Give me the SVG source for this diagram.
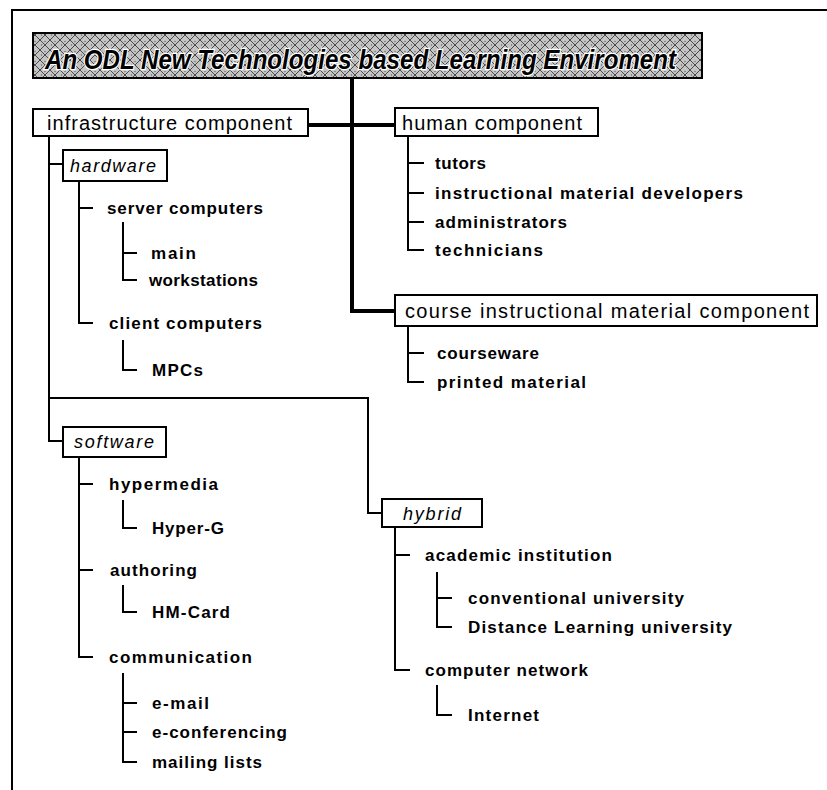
<svg xmlns="http://www.w3.org/2000/svg" width="827" height="790" viewBox="0 0 827 790">
  <defs>
    <pattern id="hatch" width="10" height="10" patternUnits="userSpaceOnUse">
      <rect width="10" height="10" fill="#c4c4c4"/>
      <path d="M0,0 L10,10 M10,0 L0,10" stroke="#4a4a4a" stroke-width="1"/>
      <circle cx="5" cy="1.5" r="0.7" fill="#666"/>
      <circle cx="1.5" cy="5" r="0.7" fill="#666"/>
    </pattern>
  </defs>
  <style>
    .box { fill: #ffffff; stroke: #000; stroke-width: 2; }
    .lbl { font-family: "Liberation Sans", Arial, sans-serif; font-size: 20px; fill: #000; }
    .cat { font-family: "Liberation Sans", Arial, sans-serif; font-size: 18px; font-style: italic; fill: #000; }
    .item { font-family: "Liberation Sans", Arial, sans-serif; font-size: 17px; font-weight: bold; fill: #000; }
    .thin { fill: none; stroke: #000; stroke-width: 2; }
    .thick { fill: none; stroke: #000; stroke-width: 4; }
  </style>

  <rect width="827" height="790" fill="#ffffff"/>

  <!-- page frame -->
  <path d="M12,790 V10 H827" fill="none" stroke="#000" stroke-width="2"/>

  <!-- connectors -->
  <g id="connectors">
    <path class="thick" d="M352,78 V311 H395"/>
    <path class="thick" d="M308,125 H395" stroke-width="5"/>
    <!-- infrastructure branches -->
    <path class="thin" d="M49,136 V441 H63 M49,164 H63 M49,398 H368 V513 H382"/>
    <!-- hardware -->
    <path class="thin" d="M79,181 V323 H93 M79,208 H93"/>
    <path class="thin" d="M123,222 V280 H137 M123,253 H137"/>
    <path class="thin" d="M123,340 V370 H137"/>
    <!-- software -->
    <path class="thin" d="M79,457 V657 H93 M79,484 H93 M79,570 H93"/>
    <path class="thin" d="M123,500 V528 H137"/>
    <path class="thin" d="M123,585 V612 H137"/>
    <path class="thin" d="M123,673 V762 H137 M123,703 H137 M123,732 H137"/>
    <!-- human -->
    <path class="thin" d="M408,136 V250 H424 M408,163 H424 M408,193 H424 M408,222 H424"/>
    <!-- course material -->
    <path class="thin" d="M408,327 V382 H424 M408,353 H424"/>
    <!-- hybrid -->
    <path class="thin" d="M395,527 V670 H410 M395,555 H410"/>
    <path class="thin" d="M437,572 V627 H452 M437,598 H452"/>
    <path class="thin" d="M437,685 V715 H452"/>
  </g>

  <g id="title">
    <rect x="33" y="33" width="669" height="45" fill="url(#hatch)" stroke="#000" stroke-width="2"/>
    <text x="45" y="69" font-family="'Liberation Sans', Arial, sans-serif" font-size="27" font-weight="bold" font-style="italic" textLength="631" lengthAdjust="spacingAndGlyphs" stroke="#fff" stroke-width="2.5" paint-order="stroke" fill="#000">An ODL New Technologies based Learning Enviroment</text>
  </g>

  <g id="infrastructure">
    <rect class="box" x="33" y="109" width="275" height="27"/>
    <text class="lbl" x="47" y="130" textLength="245">infrastructure component</text>
  </g>

  <g id="human">
    <rect class="box" x="395" y="108" width="203" height="28"/>
    <text class="lbl" x="402" y="130" textLength="180">human component</text>
  </g>
  <g id="human-items">
    <text class="item" x="435" y="169" textLength="51">tutors</text>
    <text class="item" x="435" y="199" textLength="308">instructional material developers</text>
    <text class="item" x="435" y="228" textLength="132">administrators</text>
    <text class="item" x="435" y="256" textLength="108">technicians</text>
  </g>

  <g id="course">
    <rect class="box" x="395" y="295" width="422" height="31"/>
    <text class="lbl" x="405" y="318" textLength="404">course instructional material component</text>
  </g>
  <g id="course-items">
    <text class="item" x="437" y="359" textLength="102">courseware</text>
    <text class="item" x="437" y="388" textLength="149">printed material</text>
  </g>

  <g id="hardware">
    <rect class="box" x="63" y="150" width="104" height="31"/>
    <text class="cat" x="70" y="172" textLength="86">hardware</text>
  </g>
  <g id="hardware-items">
    <text class="item" x="107" y="214" textLength="156">server computers</text>
    <text class="item" x="151" y="259" textLength="45">main</text>
    <text class="item" x="149" y="286" textLength="109">workstations</text>
    <text class="item" x="109" y="329" textLength="153">client computers</text>
    <text class="item" x="152" y="376" textLength="51">MPCs</text>
  </g>

  <g id="software">
    <rect class="box" x="63" y="427" width="103" height="30"/>
    <text class="cat" x="74" y="448" textLength="80">software</text>
  </g>
  <g id="software-items">
    <text class="item" x="109" y="490" textLength="109">hypermedia</text>
    <text class="item" x="152" y="534" textLength="72">Hyper-G</text>
    <text class="item" x="110" y="576" textLength="87">authoring</text>
    <text class="item" x="152" y="618" textLength="78">HM-Card</text>
    <text class="item" x="109" y="663" textLength="143">communication</text>
    <text class="item" x="152" y="709" textLength="57">e-mail</text>
    <text class="item" x="152" y="738" textLength="135">e-conferencing</text>
    <text class="item" x="152" y="768" textLength="110">mailing lists</text>
  </g>

  <g id="hybrid">
    <rect class="box" x="382" y="499" width="100" height="28"/>
    <text class="cat" x="403" y="520" textLength="58">hybrid</text>
  </g>
  <g id="hybrid-items">
    <text class="item" x="425" y="561" textLength="187">academic institution</text>
    <text class="item" x="468" y="604" textLength="216">conventional university</text>
    <text class="item" x="468" y="633" textLength="264">Distance Learning university</text>
    <text class="item" x="425" y="676" textLength="163">computer network</text>
    <text class="item" x="468" y="721" textLength="71">Internet</text>
  </g>
</svg>
